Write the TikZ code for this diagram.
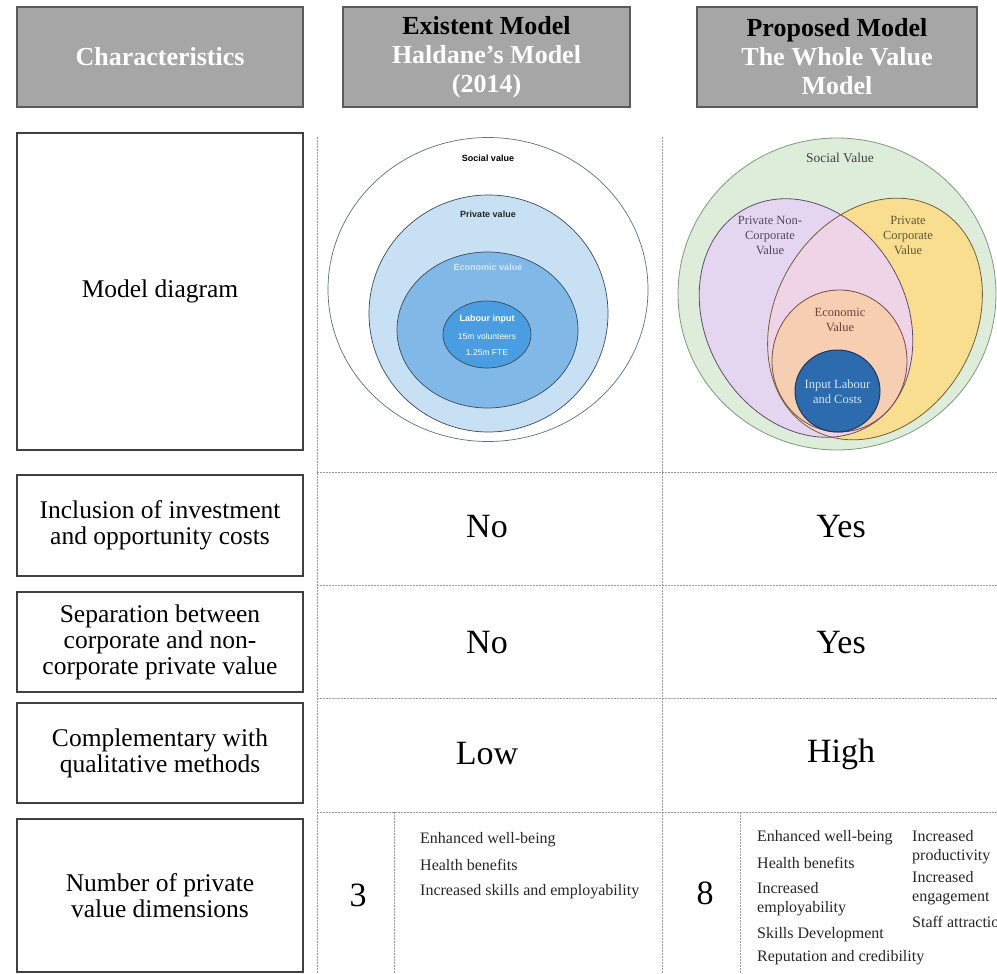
\documentclass[tikz,border=0pt]{standalone}
\usepackage{fontspec}
\setmainfont{Liberation Serif}
\setsansfont{Liberation Sans}
\definecolor{hdrfill}{HTML}{A6A6A6}
\definecolor{hdrline}{HTML}{5A5A5A}
\definecolor{boxline}{HTML}{404040}
\definecolor{gridc}{HTML}{9A9A9A}
\definecolor{hpriv}{HTML}{C8E0F4}
\definecolor{hecon}{HTML}{80B9E7}
\definecolor{hlab}{HTML}{4A9DE0}
\definecolor{hline}{HTML}{3A4A5A}
\definecolor{gfill}{HTML}{DDEDD9}
\definecolor{gline}{HTML}{7E9A7E}
\definecolor{purp}{HTML}{E4D6F0}
\definecolor{purpline}{HTML}{5E4E6E}
\definecolor{yell}{HTML}{F8DE8E}
\definecolor{yellline}{HTML}{6E6038}
\definecolor{pinkov}{HTML}{EED4E6}
\definecolor{peach}{HTML}{F6CEB2}
\definecolor{peachline}{HTML}{7A4A3E}
\definecolor{dblue}{HTML}{2C6BAE}
\definecolor{dblueline}{HTML}{1B3A5C}
\definecolor{ltext}{HTML}{D4E6F7}
\begin{document}
\begin{tikzpicture}[x=1pt,y=-1pt,
  hdr/.style={draw=hdrline, line width=1.2pt, fill=hdrfill, minimum width=286pt, minimum height=100pt, align=center, font=\fontsize{26}{29}\selectfont\bfseries, inner sep=0pt},
  charbox/.style={draw=boxline, line width=1.3pt, fill=white, minimum width=286pt, align=center, font=\fontsize{25.5}{26}\selectfont, inner sep=0pt},
  gridline/.style={draw=gridc, line width=0.7pt, dash pattern=on 1.6pt off 1.4pt},
  val/.style={font=\fontsize{34}{36}\selectfont},
  lst/.style={font=\fontsize{16}{19}\selectfont, anchor=west, align=left, inner sep=0pt, text=black!85},
  hsans/.style={font=\sffamily\bfseries\fontsize{9}{11}\selectfont, inner sep=0pt},
  pserif/.style={font=\fontsize{12.5}{15}\selectfont, align=center, inner sep=0pt}
]
\useasboundingbox (0,0) rectangle (997,974);
\fill[white] (0,0) rectangle (997,974);

% headers
\node[hdr] (hchar) at (160,57) {\textcolor{white}{Characteristics}};
\node[hdr, minimum width=287pt] (hexist) at (486.5,57) {Existent Model\\\textcolor{white}{Haldane's Model}\\\textcolor{white}{(2014)}};
\node[hdr, minimum width=280pt] (hprop) at (837,57) {Proposed Model\\\textcolor{white}{The Whole Value}\\\textcolor{white}{Model}};

% grid
\draw[gridline] (317,137) -- (317,974);
\draw[gridline] (662,137) -- (662,974);
\draw[gridline] (317,472) -- (997,472);
\draw[gridline] (317,585) -- (997,585);
\draw[gridline] (317,698) -- (997,698);
\draw[gridline] (317,812) -- (997,812);
\draw[gridline] (394,812) -- (394,974);
\draw[gridline] (740,812) -- (740,974);

% characteristic boxes
\node[charbox, minimum height=317pt] (cmodel) at (160,291.5) {Model diagram};
\node[charbox, minimum height=101pt] (cincl) at (160,525.5) {Inclusion of investment\\and opportunity costs};
\node[charbox, minimum height=100pt] (csep) at (160,642) {Separation between\\corporate and non-\\corporate private value};
\node[charbox, minimum height=100pt] (ccomp) at (160,753) {Complementary with\\qualitative methods};
\node[charbox, minimum height=153pt] (cnum) at (160,895.5) {Number of private\\value dimensions};

% Haldane diagram
\filldraw[fill=white, draw=hline!80, line width=0.7pt] (488,289.5) ellipse [x radius=160, y radius=152];
\filldraw[fill=hpriv, draw=hline, line width=0.7pt] (488.5,313.5) ellipse [x radius=119.5, y radius=118.5];
\filldraw[fill=hecon, draw=hline, line width=0.7pt] (487.5,330) ellipse [x radius=90.5, y radius=78];
\filldraw[fill=hlab, draw=hline, line width=0.7pt] (487,334.5) ellipse [x radius=44, y radius=33.5];
\node[hsans] (hsoc) at (488,158) {Social value};
\node[hsans, text=black!85] (hpv) at (488,214) {Private value};
\node[hsans, text=ltext] (hev) at (488,267) {Economic value};
\node[hsans, text=white] (hli) at (487,319) {Labour input};
\node[hsans, text=white, font=\sffamily\fontsize{8.5}{10}\selectfont] (hvol) at (487,336) {15m volunteers};
\node[hsans, text=white, font=\sffamily\fontsize{8.5}{10}\selectfont] (hfte) at (487,353) {1.25m FTE};

% Whole value diagram
\filldraw[fill=gfill, draw=gline, line width=0.8pt] (837,294) ellipse [x radius=159, y radius=156];
\fill[purp, rotate around={30:(806,318)}] (806,318) ellipse [x radius=100, y radius=125];
\fill[yell, rotate around={-30:(875,319)}] (875,319) ellipse [x radius=100, y radius=127];
\begin{scope}
  \clip[rotate around={30:(806,318)}] (806,318) ellipse [x radius=100, y radius=125];
  \fill[pinkov, rotate around={-30:(875,319)}] (875,319) ellipse [x radius=100, y radius=127];
\end{scope}
\draw[purpline, line width=0.8pt, rotate around={30:(806,318)}] (806,318) ellipse [x radius=100, y radius=125];
\draw[yellline, line width=0.8pt, rotate around={-30:(875,319)}] (875,319) ellipse [x radius=100, y radius=127];
\filldraw[fill=peach, draw=peachline, line width=0.8pt] (839.5,361) ellipse [x radius=67.5, y radius=71];
\filldraw[fill=dblue, draw=dblueline, line width=1pt] (837.5,391) ellipse [x radius=42.5, y radius=41];
\node[pserif, text=black!75, font=\fontsize{13.5}{15}\selectfont] (psoc) at (840,158) {Social Value};
\node[pserif, text=purpline!90!black] (pnc) at (770,235) {Private Non-\\Corporate\\Value};
\node[pserif, text=yellline!90!black] (pc) at (908,235) {Private\\Corporate\\Value};
\node[pserif, text=peachline!90!black] (pec) at (840,320) {Economic\\Value};
\node[pserif, text=ltext] (pin) at (837.5,391.5) {Input Labour\\and Costs};

% values
\node[val] (v1a) at (487,527) {No};
\node[val] (v1b) at (841,527) {Yes};
\node[val] (v2a) at (487,643) {No};
\node[val] (v2b) at (841,643) {Yes};
\node[val] (v3a) at (487,754) {Low};
\node[val] (v3b) at (841,754) {High};
\node[val] (v4a) at (358,895) {3};
\node[val] (v4b) at (705,893) {8};

% lists
\node[lst] (la1) at (420,840) {Enhanced well-being};
\node[lst] (la2) at (420,865) {Health benefits};
\node[lst] (la3) at (420,892) {Increased skills and employability};

\node[lst] (lb1) at (757,838) {Enhanced well-being};
\node[lst] (lb2) at (757,863) {Health benefits};
\node[lst] (lb3) at (757,899) {Increased\\employability};
\node[lst] (lb4) at (757,935) {Skills Development};
\node[lst] (lb5) at (757,958) {Reputation and credibility};
\node[lst] (lc1) at (912,847) {Increased\\productivity};
\node[lst] (lc2) at (912,888) {Increased\\engagement};
\node[lst] (lc3) at (912,922) {Staff attraction};
\end{tikzpicture}
\end{document}
